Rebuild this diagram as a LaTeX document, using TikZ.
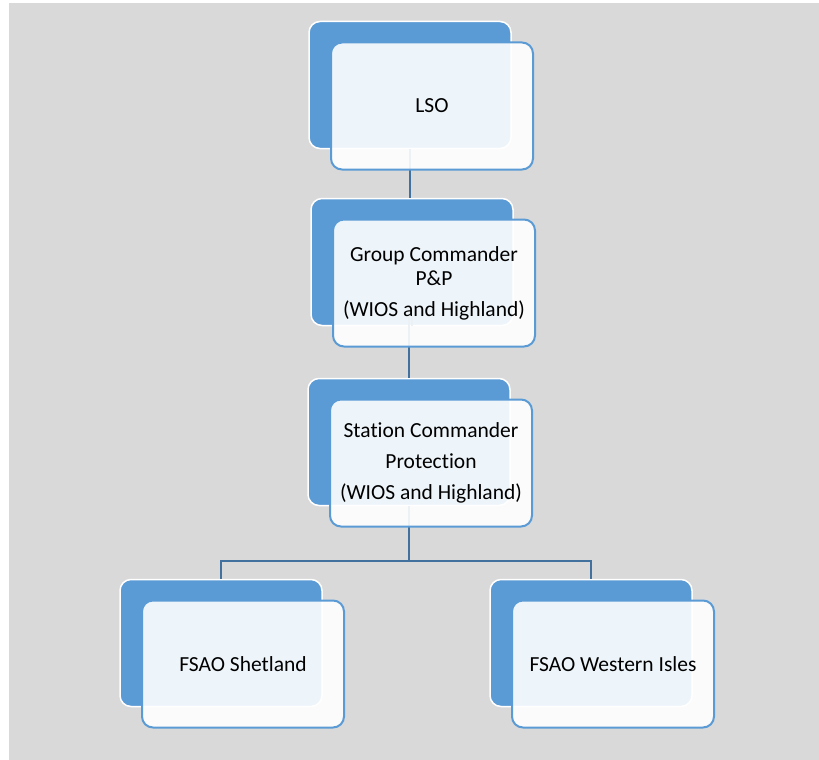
\documentclass[tikz,border=0pt]{standalone}
\usepackage{fontspec}
\setmainfont{Carlito}[Ligatures=NoCommon]
\usetikzlibrary{positioning}

\definecolor{boxblue}{HTML}{5B9BD5}
\definecolor{linkblue}{HTML}{41719C}
\definecolor{bggray}{HTML}{D9D9D9}

\tikzset{
  backbox/.style={rectangle, rounded corners=11pt, fill=boxblue, draw=white, line width=1.5pt, minimum width=202pt, minimum height=127pt},
  frontbox/.style={rectangle, rounded corners=11pt, fill=white, fill opacity=0.9, text opacity=1, draw=boxblue, line width=2pt, minimum width=202pt, minimum height=127pt, align=center, font=\fontsize{21.5}{24}\selectfont},
  link/.style={draw=linkblue, line width=2pt}
}

\begin{document}
\begin{tikzpicture}[x=1pt, y=-1pt]

%page and grey panel
\useasboundingbox (0,0) rectangle (819,760);
\fill[bggray] (9,3) rectangle (819,760);

%blue back plates
\node[backbox] (lso) at (410,85) {};
\node[backbox] (gc) at (412,262) {};
\node[backbox] (sc) at (409,442) {};
\node[backbox] (shet) at (221,643) {};
\node[backbox] (wisl) at (591,643) {};

%connectors
\coordinate (fork) at (409,561);
\draw[link] (lso.south) -- (lso.south |- gc.north);
\draw[link] (gc.south) -- ++(0,-17) -| (sc.north);
\draw[link] (sc.south) -- (fork) -| (shet.north);
\draw[link] (fork) -| (wisl.north);

%white front cards with the texts
\node[frontbox] (lsoF) at ([shift={(22,21)}]lso.center) {LSO};
\node[frontbox] (gcF) at ([shift={(22,21)}]gc.center) {Group Commander\\P\&P\\[7pt](WIOS and Highland)};
\node[frontbox] (scF) at ([shift={(22,21)}]sc.center) {Station Commander\\[7pt]Protection\\[7pt](WIOS and Highland)};
\node[frontbox] (shetF) at ([shift={(22,21)}]shet.center) {FSAO Shetland};
\node[frontbox] (wislF) at ([shift={(22,21)}]wisl.center) {FSAO Western Isles};

\end{tikzpicture}
\end{document}
